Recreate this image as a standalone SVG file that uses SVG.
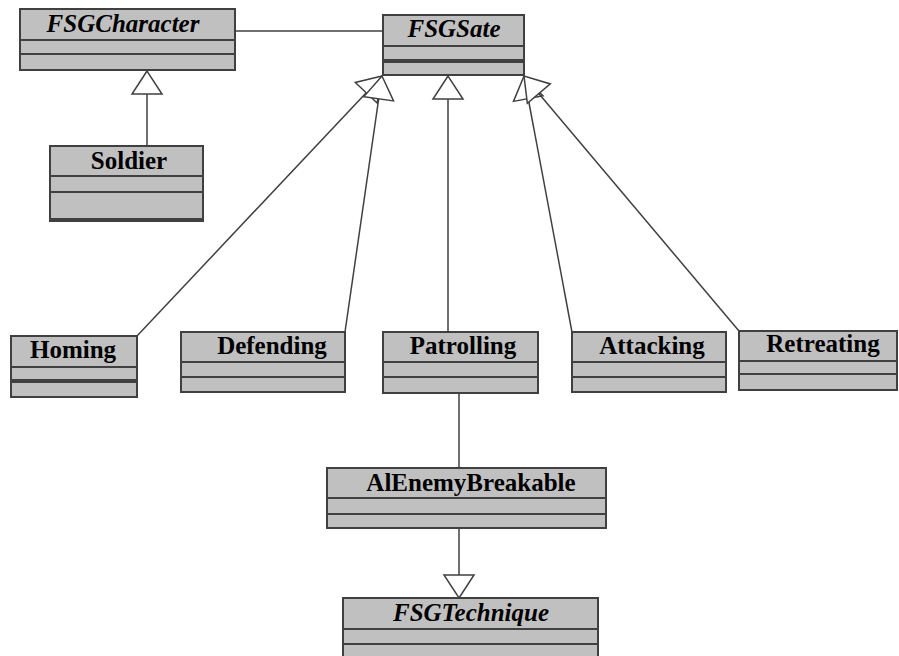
<svg xmlns="http://www.w3.org/2000/svg" width="899" height="656" viewBox="0 0 899 656">
<style>
.box{fill:#c0c0c0;stroke:#404040;stroke-width:2}
.div{stroke:#404040;stroke-width:2}
.thick{stroke:#404040;stroke-width:4}
.t{font-family:"Liberation Serif","Times New Roman",serif;font-weight:bold;font-size:25px;fill:#000;text-anchor:middle}
.i{font-style:italic}
.c{stroke:#404040;stroke-width:1.5;fill:none}
.g{marker-end:url(#gen)}
</style>
<defs>
<marker id="gen" markerUnits="userSpaceOnUse" viewBox="-26 -17 28 34" markerWidth="28" markerHeight="34" refX="0" refY="0" orient="auto">
<path d="M0,0 L-23,-15 L-23,15 Z" fill="#fff" stroke="#404040" stroke-width="1.5"/>
</marker>
</defs>
<g id="connectors">
<line class="c" x1="235" y1="31" x2="383" y2="31"/>
<line class="c g" x1="147" y1="146" x2="147" y2="71"/>
<line class="c g" x1="137" y1="336" x2="382" y2="76"/>
<line class="c g" x1="345" y1="332" x2="382" y2="76"/>
<line class="c g" x1="448" y1="332" x2="448" y2="76"/>
<line class="c g" x1="572" y1="332" x2="524" y2="76"/>
<line class="c g" x1="739" y1="331" x2="524" y2="76"/>
<line class="c" x1="459" y1="393" x2="459" y2="468"/>
<line class="c g" x1="459" y1="528" x2="459" y2="598"/>
</g>
<g id="FSGCharacter">
<rect class="box" x="20" y="9" width="215" height="61"/>
<line class="div" x1="20" y1="40" x2="235" y2="40"/>
<line class="div" x1="20" y1="54" x2="235" y2="54"/>
<text class="t i" x="123" y="32">FSGCharacter</text>
</g>
<g id="FSGSate">
<rect class="box" x="383" y="15" width="141" height="60"/>
<line class="div" x1="383" y1="46" x2="524" y2="46"/>
<line class="thick" x1="383" y1="61" x2="524" y2="61"/>
<text class="t i" x="454" y="37">FSGSate</text>
</g>
<g id="Soldier">
<rect class="box" x="50" y="146" width="153" height="75"/>
<line class="div" x1="50" y1="176" x2="203" y2="176"/>
<line class="div" x1="50" y1="192" x2="203" y2="192"/>
<line class="thick" x1="50" y1="220" x2="203" y2="220"/>
<text class="t" x="129" y="169">Soldier</text>
</g>
<g id="Homing">
<rect class="box" x="11" y="336" width="126" height="61"/>
<line class="div" x1="11" y1="367" x2="137" y2="367"/>
<line class="thick" x1="11" y1="381" x2="137" y2="381"/>
<text class="t" x="73" y="358">Homing</text>
</g>
<g id="Defending">
<rect class="box" x="181" y="332" width="164" height="60"/>
<line class="div" x1="181" y1="362" x2="345" y2="362"/>
<line class="div" x1="181" y1="377" x2="345" y2="377"/>
<text class="t" x="272" y="354">Defending</text>
</g>
<g id="Patrolling">
<rect class="box" x="383" y="332" width="155" height="61"/>
<line class="div" x1="383" y1="362" x2="538" y2="362"/>
<line class="div" x1="383" y1="377" x2="538" y2="377"/>
<text class="t" x="463" y="354">Patrolling</text>
</g>
<g id="Attacking">
<rect class="box" x="572" y="332" width="154" height="60"/>
<line class="div" x1="572" y1="362" x2="726" y2="362"/>
<line class="div" x1="572" y1="377" x2="726" y2="377"/>
<text class="t" x="652" y="354">Attacking</text>
</g>
<g id="Retreating">
<rect class="box" x="739" y="331" width="158" height="59"/>
<line class="div" x1="739" y1="361" x2="897" y2="361"/>
<line class="div" x1="739" y1="374" x2="897" y2="374"/>
<text class="t" x="823" y="352">Retreating</text>
</g>
<g id="AlEnemyBreakable">
<rect class="box" x="327" y="468" width="279" height="60"/>
<line class="div" x1="327" y1="498" x2="606" y2="498"/>
<line class="div" x1="327" y1="514" x2="606" y2="514"/>
<text class="t" x="471" y="491">AlEnemyBreakable</text>
</g>
<g id="FSGTechnique">
<rect class="box" x="343" y="598" width="255" height="70"/>
<line class="div" x1="343" y1="629" x2="598" y2="629"/>
<line class="div" x1="343" y1="644" x2="598" y2="644"/>
<text class="t i" x="471" y="621">FSGTechnique</text>
</g>
</svg>
